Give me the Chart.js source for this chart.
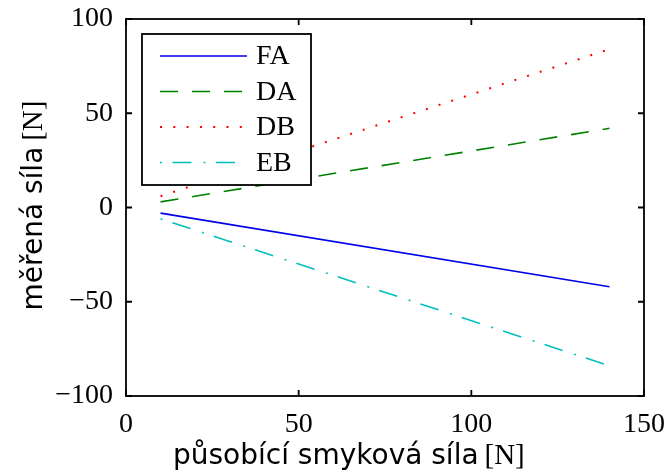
<!DOCTYPE html>
<html>
<head>
<meta charset="utf-8">
<script src="https://cdn.jsdelivr.net/npm/chart.js@4"></script>
<style>
html,body{margin:0;padding:0;background:#fff;}
#wrap{width:669px;height:473px;position:relative;}
</style>
</head>
<body>
<div id="wrap"><canvas id="c" width="669" height="473"></canvas></div>
<script>
const xForce = [10, 140];
const seriesFA = [-3, -42];
const seriesDA = [3, 42];
const seriesDB = [6, 84];
const seriesEB = [-6, -84];
const seriesNames = ['FA', 'DA', 'DB', 'EB'];
const xTicks = [0, 50, 100, 150];
const yTicks = [-100, -50, 0, 50, 100];
const xTitleMain = 'působící smyková síla';
const yTitleMain = 'měřená síla';
const unitText = '[N]';

const serif = '"Liberation Serif", "Times New Roman", serif';
const sans = '"DejaVu Sans", Verdana, sans-serif';

function pts(ys){ return xForce.map((x,i)=>({x:x,y:ys[i]})); }

const styles = [
  {color:'rgb(0,0,235)', dash:[], w:1.6},
  {color:'rgb(0,128,0)', dash:[18,14], w:1.6},
  {color:'rgb(255,0,0)', dash:[2,11.3], w:2},
  {color:'rgb(0,191,191)', dash:[2,10.5,19,12], w:1.6}
];
const allSeries = [seriesFA, seriesDA, seriesDB, seriesEB];

const datasets = allSeries.map((s,i)=>({
  label: seriesNames[i],
  data: pts(s),
  borderColor: styles[i].color,
  borderDash: styles[i].dash,
  borderWidth: styles[i].w,
  pointRadius: 0,
  fill: false,
  tension: 0
}));

const decor = {
  id:'decor',
  afterDatasetsDraw(chart){
    const ctx = chart.ctx, a = chart.chartArea;
    const xs = chart.scales.x, ys = chart.scales.y;
    ctx.save();
    ctx.strokeStyle = '#000';
    ctx.lineWidth = 1.8;
    ctx.setLineDash([]);
    ctx.strokeRect(a.left, a.top, a.right - a.left, a.bottom - a.top);
    const tl = 6;
    ctx.beginPath();
    xTicks.forEach(v=>{
      const px = xs.getPixelForValue(v);
      ctx.moveTo(px, a.bottom); ctx.lineTo(px, a.bottom - tl);
      ctx.moveTo(px, a.top); ctx.lineTo(px, a.top + tl);
    });
    yTicks.forEach(v=>{
      const py = ys.getPixelForValue(v);
      ctx.moveTo(a.left, py); ctx.lineTo(a.left + tl, py);
      ctx.moveTo(a.right, py); ctx.lineTo(a.right - tl, py);
    });
    ctx.stroke();

    // legend
    const lx = 142, ly = 34, lw = 169, lh = 151;
    ctx.fillStyle = '#fff';
    ctx.fillRect(lx, ly, lw, lh);
    ctx.lineWidth = 1.8;
    ctx.strokeRect(lx, ly, lw, lh);
    chart.data.datasets.forEach((d,i)=>{
      const cy = 56 + i*35.5;
      ctx.beginPath();
      ctx.strokeStyle = d.borderColor;
      ctx.lineWidth = d.borderWidth;
      ctx.setLineDash(d.borderDash || []);
      ctx.moveTo(160, cy); ctx.lineTo(247, cy);
      ctx.stroke();
      ctx.setLineDash([]);
      ctx.fillStyle = '#000';
      ctx.font = '28px ' + serif;
      ctx.textBaseline = 'middle';
      ctx.textAlign = 'left';
      ctx.fillText(d.label, 256, cy + 1);
    });

    // axis titles
    ctx.fillStyle = '#000';
    ctx.textBaseline = 'alphabetic';
    ctx.textAlign = 'left';
    ctx.font = '28px ' + sans;
    const w1 = ctx.measureText(xTitleMain + ' ').width;
    const x0 = 173;
    ctx.fillText(xTitleMain + ' ', x0, 464);
    ctx.font = '29px ' + serif;
    ctx.fillText(unitText, x0 + w1 - 3, 464);

    ctx.translate(42, 0);
    ctx.rotate(-Math.PI/2);
    ctx.font = '28px ' + sans;
    const v1 = ctx.measureText(yTitleMain + ' ').width;
    ctx.font = '29px ' + serif;
    const v2 = ctx.measureText(unitText).width;
    const yc = 204;
    const s0 = -yc - (v1 + v2)/2;
    ctx.font = '28px ' + sans;
    ctx.fillText(yTitleMain + ' ', s0, 0);
    ctx.font = '29px ' + serif;
    ctx.fillText(unitText, s0 + v1 - 3, 0);
    ctx.restore();
  }
};

const fmt = v => (v < 0 ? '\u2212' + Math.abs(v) : String(v));

new Chart(document.getElementById('c'), {
  type: 'line',
  data: { datasets: datasets },
  options: {
    responsive: false,
    animation: false,
    devicePixelRatio: 1,
    layout: { padding: { left: 0, top: 19, right: 25, bottom: 0 } },
    plugins: { legend: { display: false }, tooltip: { enabled: false } },
    scales: {
      x: {
        type: 'linear', min: 0, max: 150,
        afterBuildTicks: s => { s.ticks = xTicks.map(v=>({value:v})); },
        afterFit: s => { s.height = 77; s.paddingLeft = 0; s.paddingRight = 0; },
        grid: { display: false },
        border: { display: false },
        ticks: { color:'#000', font: { family: serif, size: 28 }, padding: 4, callback: fmt, maxRotation: 0 }
      },
      y: {
        type: 'linear', min: -100, max: 100,
        afterBuildTicks: s => { s.ticks = yTicks.map(v=>({value:v})); },
        afterFit: s => { s.width = 126; s.paddingTop = 0; s.paddingBottom = 0; },
        grid: { display: false },
        border: { display: false },
        ticks: { color:'#000', font: { family: serif, size: 28 }, padding: 5, callback: fmt }
      }
    }
  },
  plugins: [decor]
});
</script>
</body>
</html>
